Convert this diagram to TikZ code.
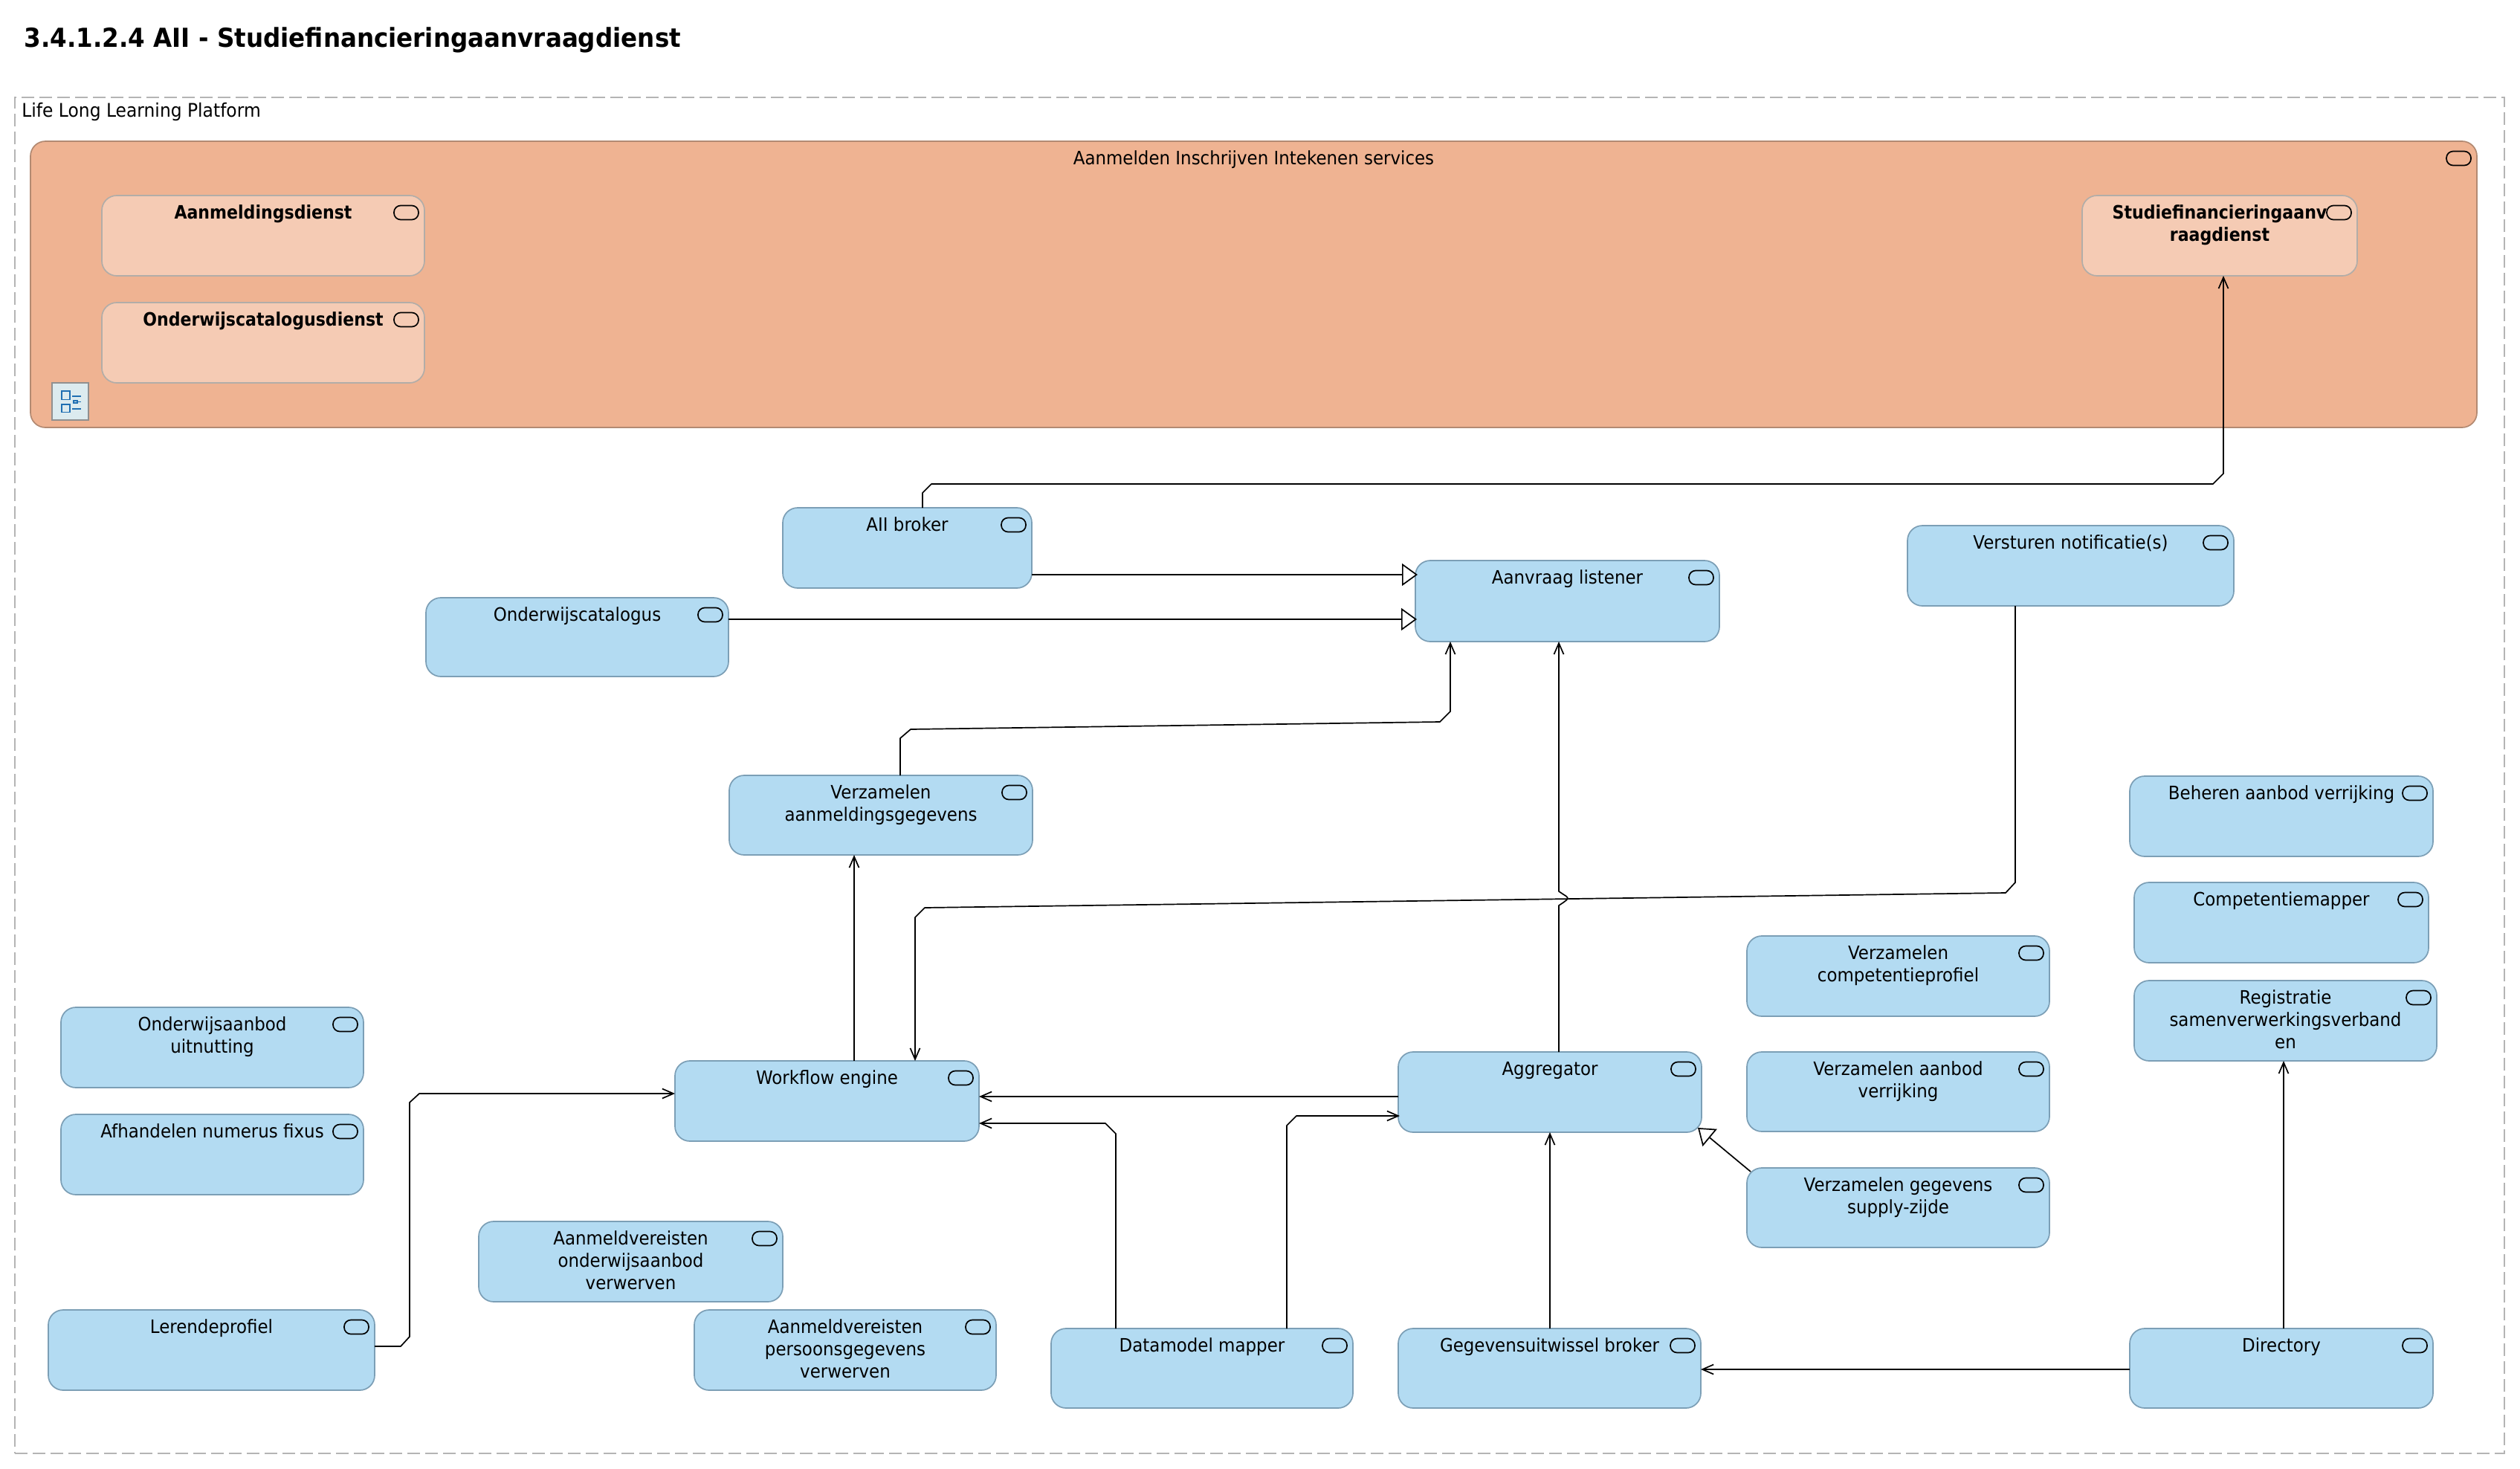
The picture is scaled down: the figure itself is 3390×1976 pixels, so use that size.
\documentclass[tikz,border=0pt]{standalone}
\usepackage{fontspec}
\setmainfont{DejaVu Sans}[FakeStretch=0.925]
\newfontfamily\titlefont{DejaVu Sans Bold}[FakeStretch=0.925]
\newfontfamily\svcbold{DejaVu Sans Bold}[FakeStretch=0.89]
\usetikzlibrary{arrows.meta}
\definecolor{svcblue}{HTML}{B3DBF2}
\definecolor{svcblueline}{HTML}{7C9FB6}
\definecolor{grporange}{HTML}{EFB392}
\definecolor{grpline}{HTML}{B38A72}
\definecolor{innerfill}{HTML}{F5CBB4}
\definecolor{innerline}{HTML}{B2ADA8}
\definecolor{framegray}{HTML}{B4B4B4}
\definecolor{iconfill}{HTML}{DCEBEF}
\definecolor{iconblue}{HTML}{1F6FB2}
\tikzset{
  boxbase/.style={rectangle,rounded corners=10pt,inner sep=0pt,outer sep=0pt,line width=.85pt},
  bluebox/.style={boxbase,fill=svcblue,draw=svcblueline},
  innerbox/.style={boxbase,fill=innerfill,draw=innerline},
  orangebox/.style={boxbase,fill=grporange,draw=grpline},
  svctext/.style={anchor=north,inner sep=0pt,align=center,font=\fontsize{12.4}{15}\selectfont},
  pill/.style={rectangle,rounded corners=4.5pt,draw=black,line width=.85pt,inner sep=0pt,minimum width=16.5pt,minimum height=9.5pt},
  conn/.style={draw=black,line width=.85pt,line join=round},
  flow/.style={conn,-{Straight Barb[length=7.5pt,width=6.5pt,line width=.85pt]}},
  gen/.style={conn,-{Triangle[open,fill=white,length=10.5pt,width=15pt,line width=.85pt]}}
}
\newcommand{\svcnode}[7][bluebox]{%
  \node[#1,minimum width={(#5-#3)*0.5pt},minimum height={(#6-#4)*0.5pt}] (#2) at ({(#3+#5)/2},{(#4+#6)/2}) {};
  \node[svctext] (#2-t) at ([shift={(0,10.5)}]#2.north) {\rule{0pt}{10.5pt}#7};
  \node[pill] (#2-i) at ([shift={(-24.5,23)}]#2.north east) {};
}
\begin{document}
\begin{tikzpicture}[x=0.5pt,y=-0.5pt]
\useasboundingbox (0,0) rectangle (3390,1976);
\fill[white] (0,0) rectangle (3390,1976);
\node[anchor=base west,inner sep=0pt,font=\titlefont\fontsize{17.6}{20}\selectfont] (title) at (32,63) {3.4.1.2.4 AII - Studiefinancieringaanvraagdienst};
\node[rectangle,draw=framegray,line width=.8pt,dash pattern=on 8.5pt off 3.5pt,inner sep=0pt,minimum width=1674.5pt,minimum height=912pt] (platform) at (1694.5,1043) {};
\node[anchor=base west,inner sep=0pt,font=\fontsize{12.65}{15}\selectfont] (platform-t) at (29,157.5) {Life Long Learning Platform};
% group
\svcnode[orangebox]{group}{41}{190}{3332}{575}{Aanmelden Inschrijven Intekenen services}
\svcnode[innerbox]{aanm}{137}{263}{571}{371}{\svcbold Aanmeldingsdienst}
\svcnode[innerbox]{ocd}{137}{407}{571}{515}{\svcbold Onderwijscatalogusdienst}
\svcnode[innerbox]{stud}{2801}{263}{3171}{371}{\svcbold Studiefinancieringaanv\\\svcbold raagdienst}
% view icon
\node[rectangle,fill=iconfill,draw=framegray!80!black,line width=.7pt,inner sep=0pt,minimum width=24.5pt,minimum height=25pt] (viewicon) at (94.5,540) {};
\draw[iconblue,line width=.7pt] (83,526) rectangle (94,537.5) (83,544) rectangle (94,554.5) (99,539) rectangle (104,542);
\draw[iconblue,line width=.8pt] (97,533) -- (109,533) (97,550) -- (109,550) (105,540.5) -- (109,540.5);
% services
\svcnode{broker}{1053}{683}{1388}{791}{AII broker}
\svcnode{ocat}{573}{804}{980}{910}{Onderwijscatalogus}
\svcnode{listener}{1904}{754}{2313}{863}{Aanvraag listener}
\svcnode{notif}{2566}{707}{3005}{815}{Versturen notificatie(s)}
\svcnode{vaan}{981}{1043}{1389}{1150}{Verzamelen\\aanmeldingsgegevens}
\svcnode{beheer}{2865}{1044}{3273}{1152}{Beheren aanbod verrijking}
\svcnode{comp}{2871}{1187}{3267}{1295}{Competentiemapper}
\svcnode{regi}{2871}{1319}{3278}{1427}{Registratie\\samenverwerkingsverband\\en}
\svcnode{vcomp}{2350}{1259}{2757}{1367}{Verzamelen\\competentieprofiel}
\svcnode{vaanb}{2350}{1415}{2757}{1522}{Verzamelen aanbod\\verrijking}
\svcnode{vsup}{2350}{1571}{2757}{1678}{Verzamelen gegevens\\supply-zijde}
\svcnode{aggr}{1881}{1415}{2289}{1523}{Aggregator}
\svcnode{wf}{908}{1427}{1317}{1535}{Workflow engine}
\svcnode{ouit}{82}{1355}{489}{1463}{Onderwijsaanbod\\uitnutting}
\svcnode{numf}{82}{1499}{489}{1607}{Afhandelen numerus fixus}
\svcnode{avo}{644}{1643}{1053}{1751}{Aanmeldvereisten\\onderwijsaanbod\\verwerven}
\svcnode{ler}{65}{1762}{504}{1870}{Lerendeprofiel}
\svcnode{avp}{934}{1762}{1340}{1870}{Aanmeldvereisten\\persoonsgegevens\\verwerven}
\svcnode{dmm}{1414}{1787}{1820}{1894}{Datamodel mapper}
\svcnode{geg}{1881}{1787}{2288}{1894}{Gegevensuitwissel broker}
\svcnode{dir}{2865}{1787}{3273}{1894}{Directory}
% connectors
\draw[flow] ([shift={(188,0)}]broker.north west) -- (1241,663) -- (1253,651) -- (2977,651) -- (2991,637) -- ([shift={(190,0)}]stud.south west);
\draw[gen] ([shift={(0,90)}]broker.north east) -- ([shift={(3,19)}]listener.north west);
\draw[gen] ([shift={(0,29)}]ocat.north east) -- ([shift={(2,79)}]listener.north west);
\draw[flow] ([shift={(230,0)}]vaan.north west) -- (1211,993) -- (1225,981) -- (1937,971) -- (1951,957) -- ([shift={(47,0)}]listener.south west);
\draw[flow] ([shift={(216,0)}]aggr.north west) -- (2097,1218) -- (2103,1214) .. controls (2111,1208) .. (2103,1203) -- (2097,1199) -- ([shift={(193,0)}]listener.south west);
\draw[flow] ([shift={(145,0)}]notif.south west) -- (2711,1187) -- (2698,1201) -- (1244,1221) -- (1231,1234) -- ([shift={(323,0)}]wf.north west);
\draw[flow] ([shift={(241,0)}]wf.north west) -- ([shift={(168,0)}]vaan.south west);
\draw[flow] ([shift={(0,60)}]aggr.north west) -- ([shift={(0,48)}]wf.north east);
\draw[flow] ([shift={(87,0)}]dmm.north west) -- (1501,1525) -- (1487,1511) -- ([shift={(0,84)}]wf.north east);
\draw[flow] ([shift={(317,0)}]dmm.north west) -- (1731,1514) -- (1744,1501) -- ([shift={(2,86)}]aggr.north west);
\draw[flow] ([shift={(204,0)}]geg.north west) -- ([shift={(204,0)}]aggr.south west);
\draw[gen] ([shift={(5,5)}]vsup.north west) -- ([shift={(-5,-6)}]aggr.south east);
\draw[flow] ([shift={(0,49)}]ler.north east) -- (539,1811) -- (551,1798) -- (551,1483) -- (564,1471) -- ([shift={(0,44)}]wf.north west);
\draw[flow] ([shift={(0,55)}]dir.north west) -- ([shift={(0,55)}]geg.north east);
\draw[flow] ([shift={(207,0)}]dir.north west) -- ([shift={(201,0)}]regi.south west);
\end{tikzpicture}
\end{document}
